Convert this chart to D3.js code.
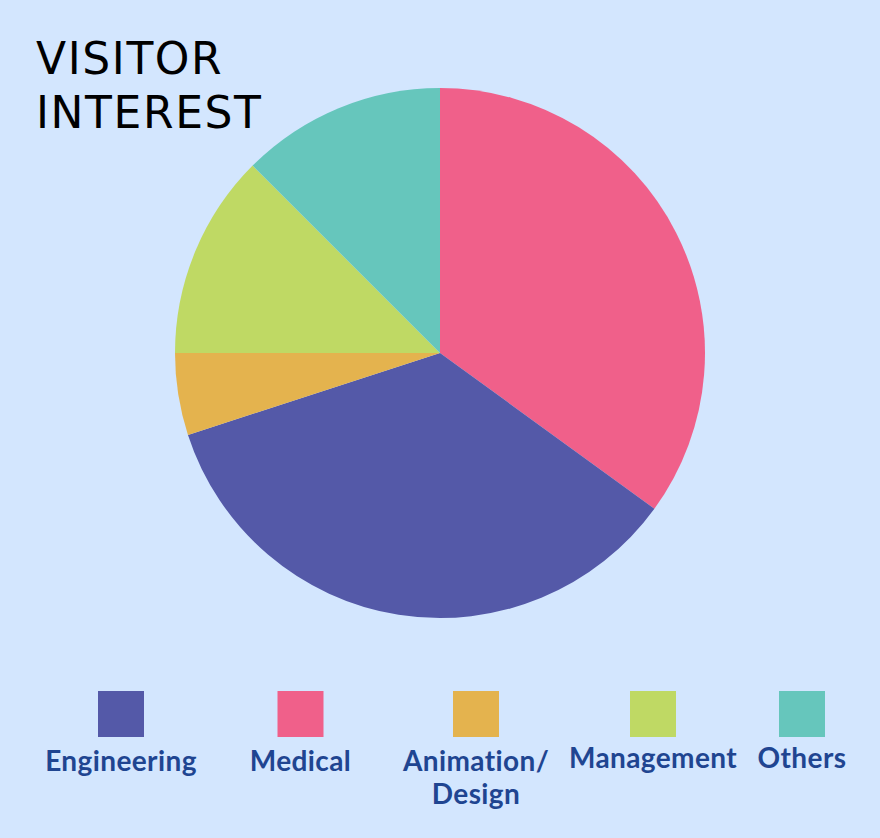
<!DOCTYPE html>
<html>
<head>
<meta charset="utf-8">
<script src="https://cdn.jsdelivr.net/npm/d3@7"></script>
<style>
  html, body { margin: 0; padding: 0; background: #d3e6fe; }
  svg { display: block; }
</style>
</head>
<body>
<svg id="chart" width="880" height="838"></svg>
<script>
// Data
const pieOrder = ["Medical", "Engineering", "Animation/Design", "Management", "Others"];
const pieValues = [35, 35, 5, 12.5, 12.5];
const legendCategories = ["Engineering", "Medical", "Animation/Design", "Management", "Others"];
const legendLabels = [["Engineering"], ["Medical"], ["Animation/", "Design"], ["Management"], ["Others"]];
const categoryColors = ["#5459a8", "#f0608a", "#e4b34e", "#bfd964", "#66c6bc"];
const titleLines = ["VISITOR", "INTEREST"];

const W = 880, H = 838;
const svg = d3.select("#chart");

svg.append("rect").attr("width", W).attr("height", H).attr("fill", "#d3e6fe");

const color = d3.scaleOrdinal().domain(legendCategories).range(categoryColors);

const cx = 440, cy = 353, r = 265;
const pie = d3.pie().sort(null).value(d => d.value);
const arc = d3.arc().innerRadius(0).outerRadius(r);
const pieData = pieOrder.map((c, i) => ({ cat: c, value: pieValues[i] }));

svg.append("g").attr("transform", `translate(${cx},${cy})`)
  .selectAll("path").data(pie(pieData)).join("path")
  .attr("d", arc)
  .attr("fill", d => color(d.data.cat));

// Title
svg.append("text")
  .attr("x", 36).attr("y", 74)
  .attr("font-family", "DejaVu Sans, sans-serif")
  .attr("font-size", 44)
  .attr("letter-spacing", 1.6)
  .attr("fill", "#000")
  .selectAll("tspan").data(titleLines).join("tspan")
  .attr("x", 36).attr("dy", (d, i) => i === 0 ? 0 : 54)
  .text(d => d);

// Legend layout (item centres, uneven as in the original)
const legendCentres = [121, 300.5, 476, 653, 802];
const lg = svg.append("g");
const items = lg.selectAll("g").data(legendCategories).join("g")
  .attr("transform", (d, i) => `translate(${legendCentres[i]},0)`);
items.append("rect")
  .attr("x", -23).attr("y", 691).attr("width", 46).attr("height", 46)
  .attr("fill", d => color(d));
items.append("text")
  .attr("text-anchor", "middle")
  .attr("font-family", "Lato, sans-serif")
  .attr("font-weight", 700)
  .attr("font-size", 28)
  .attr("letter-spacing", 0.4)
  .attr("fill", "#1f4591")
  .attr("y", (d, i) => i >= 3 ? 768 : 771)
  .selectAll("tspan").data((d, i) => legendLabels[i]).join("tspan")
  .attr("x", 0).attr("dy", (d, i) => i === 0 ? 0 : 33)
  .text(d => d);
</script>
</body>
</html>
